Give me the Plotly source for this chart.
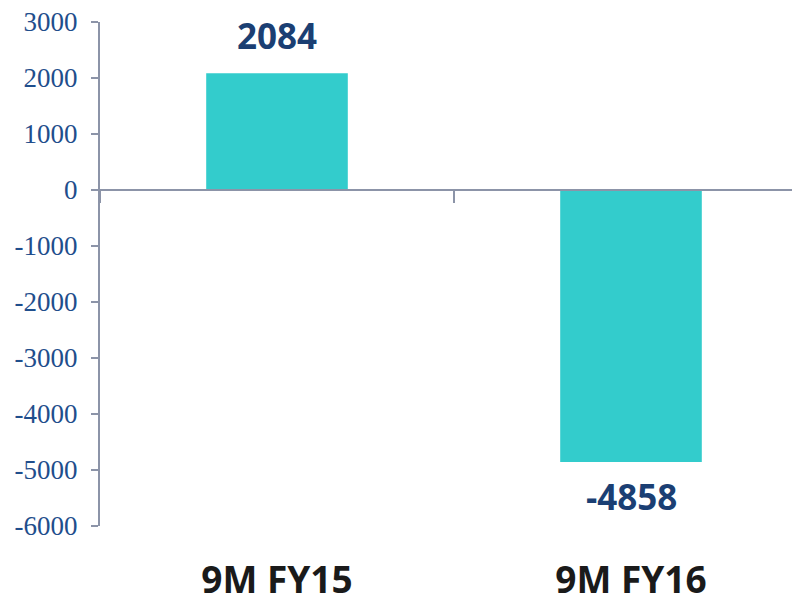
import plotly.graph_objects as go

categories = ["9M FY15", "9M FY16"]
values = [2084, -4858]
value_labels = ["2084", "-4858"]
y_ticks = [3000, 2000, 1000, 0, -1000, -2000, -3000, -4000, -5000, -6000]
y_tick_text = ["3000", "2000", "1000", "0", "-1000", "-2000", "-3000", "-4000", "-5000", "-6000"]

bar_color = "#33CCCC"
label_color = "#1B3F73"
axis_color = "#8C94A8"

fig = go.Figure()
fig.add_trace(go.Bar(x=categories, y=values, marker_color=bar_color,
                     marker_line_width=0, width=0.40, xaxis="x", yaxis="y"))

# invisible trace to carry the zero-line axis with boundary tick
fig.add_trace(go.Scatter(x=categories, y=[None, None], xaxis="x2", yaxis="y",
                         showlegend=False, hoverinfo="skip"))

for c, v, t in zip(categories, values, value_labels):
    fig.add_annotation(x=c, y=v, text=t, showarrow=False,
                       xref="x", yref="y",
                       yanchor="bottom" if v >= 0 else "top",
                       yshift=12 if v >= 0 else -9,
                       font=dict(family="Open Sans", size=35, color=label_color, weight="bold"))

xr = [-0.5, 1.5]
fig.update_layout(
    width=800, height=596,
    margin=dict(l=92, r=0, t=14, b=78, autoexpand=False),
    plot_bgcolor="white", paper_bgcolor="white",
    showlegend=False,
    xaxis=dict(type="category", range=xr, showline=False, ticks="",
               showgrid=False, zeroline=False, automargin=False,
               ticklabeloverflow="allow",
               tickfont=dict(family="Open Sans", size=37, color="#1a1a1a", weight="bold"),
               ticklabelstandoff=29),
    xaxis2=dict(type="category", range=xr, overlaying="x", anchor="free",
                position=6000/9000, side="bottom", showline=True, linecolor=axis_color,
                linewidth=2, ticks="outside", tickson="boundaries", ticklen=12,
                tickwidth=2, tickcolor=axis_color, showticklabels=False,
                showgrid=False, zeroline=False, automargin=False),
    yaxis=dict(range=[-6000, 3000], tickvals=y_ticks, ticktext=y_tick_text,
               showgrid=False, automargin=False, ticklabeloverflow="allow",
               zeroline=False, showline=True, linecolor=axis_color, linewidth=2,
               ticks="outside", ticklen=7, tickwidth=2, tickcolor=axis_color,
               tickfont=dict(family="Liberation Serif", size=27, color="#1F4E8C"),
               ticklabelstandoff=8),
)

fig.write_html("out.html")
